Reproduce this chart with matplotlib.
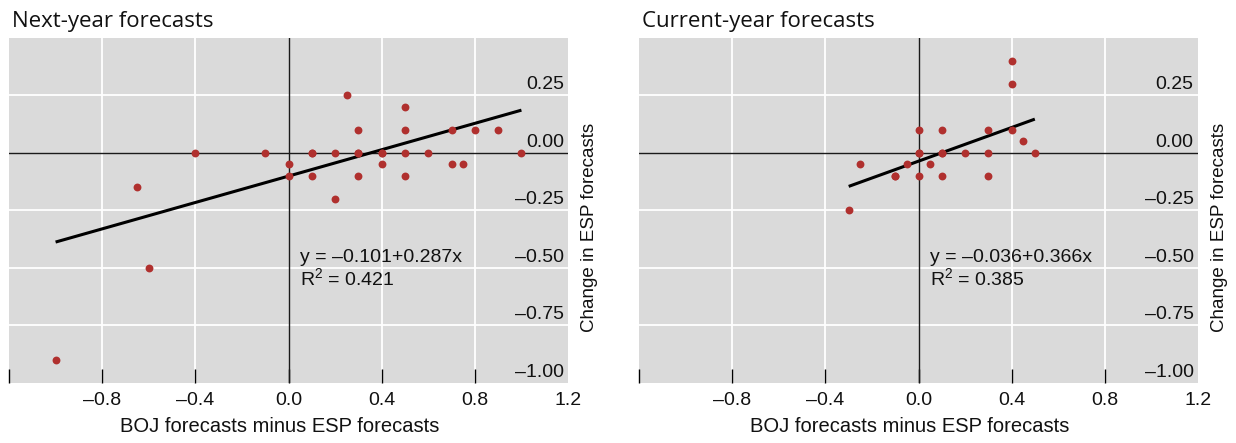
import matplotlib
matplotlib.use("Agg")
import matplotlib.pyplot as plt
import numpy as np

# ---------------- data ----------------
next_x = [0.0, 0.0, 0.1, 0.2, 0.3, 0.3, 0.4, 0.4, 0.5, 0.6, 1.0, 0.25, 0.5, 0.3, 0.5,
          0.7, 0.8, 0.9, 0.4, 0.7, 0.75, 0.1, 0.3, 0.5, 0.2, -0.4, -0.1, 0.1,
          -0.65, -0.6, -1.0]
next_y = [-0.05, -0.1, 0.0, 0.0, 0.0, 0.0, 0.0, 0.0, 0.0, 0.0, 0.0, 0.25, 0.2, 0.1, 0.1,
          0.1, 0.1, 0.1, -0.05, -0.05, -0.05, -0.1, -0.1, -0.1, -0.2, 0.0, 0.0, 0.0,
          -0.15, -0.5, -0.9]
cur_x = [0.4, 0.4, 0.0, 0.1, 0.3, 0.4, 0.45, 0.0, 0.0, 0.1, 0.1, 0.2, 0.3, 0.5,
         -0.25, -0.05, 0.05, -0.1, -0.1, 0.0, 0.1, 0.3, -0.3]
cur_y = [0.4, 0.3, 0.1, 0.1, 0.1, 0.1, 0.05, 0.0, 0.0, 0.0, 0.0, 0.0, 0.0, 0.0,
         -0.05, -0.05, -0.05, -0.1, -0.1, -0.1, -0.1, -0.1, -0.25]

next_fit = (-0.101, 0.287, 0.421)   # intercept, slope, R2
cur_fit = (-0.036, 0.366, 0.385)

titles = ["Next-year forecasts", "Current-year forecasts"]
x_ticks = [-1.2, -0.8, -0.4, 0.0, 0.4, 0.8, 1.2]
x_tick_labels = ["", "\u20130.8", "\u20130.4", "0.0", "0.4", "0.8", "1.2"]
y_ticks = [0.25, 0.0, -0.25, -0.5, -0.75, -1.0]
y_tick_labels = ["0.25", "0.00", "\u20130.25", "\u20130.50", "\u20130.75", "\u20131.00"]
xlabel = "BOJ forecasts minus ESP forecasts"
ylabel = "Change in ESP forecasts"

# ---------------- style ----------------
W, H = 1236, 443
plt.rcParams["font.family"] = ["Liberation Sans", "DejaVu Sans"]
plt.rcParams["mathtext.fontset"] = "custom"
plt.rcParams["mathtext.rm"] = "Liberation Sans"
plt.rcParams["mathtext.it"] = "Liberation Sans:italic"
plt.rcParams["mathtext.bf"] = "Liberation Sans:bold"

BG = "#dadada"
DOT = "#b0302e"
TXT = "#111111"

fig = plt.figure(figsize=(W / 100, H / 100), dpi=100)

panels = [
    dict(left=9, right=568, xs=next_x, ys=next_y, fit=next_fit, title=titles[0],
         xlab_c=280, ylab_c=590),
    dict(left=639.3, right=1197.7, xs=cur_x, ys=cur_y, fit=cur_fit, title=titles[1],
         xlab_c=910, ylab_c=1220),
]
top_px, bot_px = 38, 382.7

for p in panels:
    ax = fig.add_axes([p["left"] / W, 1 - bot_px / H, (p["right"] - p["left"]) / W,
                       (bot_px - top_px) / H])
    ax.set_facecolor(BG)
    ax.set_xlim(-1.2, 1.2)
    ax.set_ylim(-1.0, 0.5)
    for s in ax.spines.values():
        s.set_visible(False)

    # grid
    for xv in x_ticks:
        if xv not in (-1.2, 0.0, 1.2):
            ax.axvline(xv, color="white", lw=1.3, zorder=1)
    for yv in y_ticks:
        if yv not in (0.0, -1.0):
            ax.axhline(yv, color="white", lw=1.3, zorder=1)
    ax.axhline(0, color="#1a1a1a", lw=1.0, zorder=2)
    ax.axvline(0, color="#1a1a1a", lw=1.0, zorder=2)

    # ticks
    ax.set_xticks(x_ticks)
    ax.set_xticklabels(x_tick_labels, fontsize=14)
    ax.tick_params(axis="x", direction="in", length=10, width=1.0, color="black",
                   pad=7, labelcolor=TXT)
    ax.xaxis.get_major_ticks()[-1].tick1line.set_visible(False)
    ax.set_yticks([])

    for yv, lab in zip(y_ticks, y_tick_labels):
        ax.annotate(lab, xy=(1, yv), xycoords=("axes fraction", "data"),
                    xytext=(-4, 6), textcoords="offset pixels", ha="right",
                    va="baseline", fontsize=14, color=TXT, zorder=5)

    # data
    ax.scatter(p["xs"], p["ys"], s=32, color=DOT, zorder=4, linewidths=0)
    a, b, r2 = p["fit"]
    xline = np.array([min(p["xs"]), max(p["xs"])])
    ax.plot(xline, a + b * xline, color="black", lw=2.2, zorder=3,
            solid_capstyle="butt")

    eq = "y = \u2013%.3f+%.3fx" % (abs(a), b)
    ax.text(0.05, -0.474, eq, fontsize=14, color=TXT, ha="left", va="baseline",
            zorder=5)
    ax.text(0.05, -0.575, r"R$^2$ = %.3f" % r2, fontsize=14, color=TXT,
            ha="left", va="baseline", zorder=5)

    # titles and labels
    fig.text((p["left"] + 2.7) / W, 1 - 27.3 / H, p["title"], fontsize=16,
             family=["Open Sans", "DejaVu Sans"], ha="left", va="baseline",
             color=TXT)
    fig.text(p["xlab_c"] / W, 1 - 427 / H, xlabel, fontsize=14.5, ha="center",
             va="center", color=TXT)
    fig.text(p["ylab_c"] / W, 1 - 227 / H, ylabel, fontsize=13.5, ha="center",
             va="center", rotation=90, color=TXT)

fig.savefig("out.png", dpi=100)
